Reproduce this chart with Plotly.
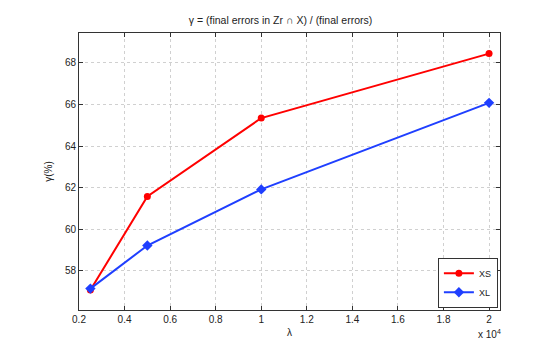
import plotly.graph_objects as go

# lambda values (x 10^4)
lam = [0.25, 0.5, 1.0, 2.0]
xs_vals = [57.08, 61.58, 65.35, 68.45]
xl_vals = [57.15, 59.22, 61.92, 66.08]

x_ticks = [0.2, 0.4, 0.6, 0.8, 1.0, 1.2, 1.4, 1.6, 1.8, 2.0]
x_labels = ["0.2", "0.4", "0.6", "0.8", "1", "1.2", "1.4", "1.6", "1.8", "2"]
y_ticks = [58, 60, 62, 64, 66, 68]

fig = go.Figure()
fig.add_trace(go.Scatter(x=lam, y=xs_vals, name="XS", mode="lines+markers",
                         line=dict(color="#ff0000", width=2),
                         marker=dict(symbol="circle", size=7, color="#ff0000")))
fig.add_trace(go.Scatter(x=lam, y=xl_vals, name="XL", mode="lines+markers",
                         line=dict(color="#1f3fff", width=2),
                         marker=dict(symbol="diamond", size=8, color="#1f3fff")))

axis_style = dict(showline=True, linecolor="#333333", linewidth=1, mirror="ticks",
                  ticks="inside", ticklen=4, tickcolor="#333333",
                  showgrid=True, gridcolor="#d0d0d0", griddash="dot", gridwidth=1,
                  zeroline=False, tickfont=dict(size=10, color="#222222"))

fig.update_layout(
    width=545, height=340,
    margin=dict(l=71, r=53, t=25, b=38),
    paper_bgcolor="white", plot_bgcolor="white",
    font=dict(family="Liberation Sans, Arial, sans-serif", size=10, color="#222222"),
    title=dict(text="γ = (final errors in Zr ∩ X) / (final errors)", x=0.5, xanchor="center",
               y=0.965, yanchor="middle", font=dict(size=10.5)),
    xaxis=dict(axis_style, range=[0.2, 2.048], tickvals=x_ticks, ticktext=x_labels,
               title=dict(text="λ", standoff=4, font=dict(size=10))),
    yaxis=dict(axis_style, range=[56.12, 69.44], tickvals=y_ticks,
               title=dict(text="γ(%)", standoff=10, font=dict(size=10))),
    showlegend=True,
    legend=dict(x=0.995, y=0.008, xanchor="right", yanchor="bottom",
                bgcolor="white", bordercolor="#333333", borderwidth=1,
                font=dict(size=9), itemwidth=30, tracegroupgap=0),
)

fig.add_annotation(text="x 10<sup>4</sup>", xref="paper", yref="paper", x=0.976, y=-0.087,
                   xanchor="center", yanchor="middle", showarrow=False, font=dict(size=10))

fig.write_html("out.html")
